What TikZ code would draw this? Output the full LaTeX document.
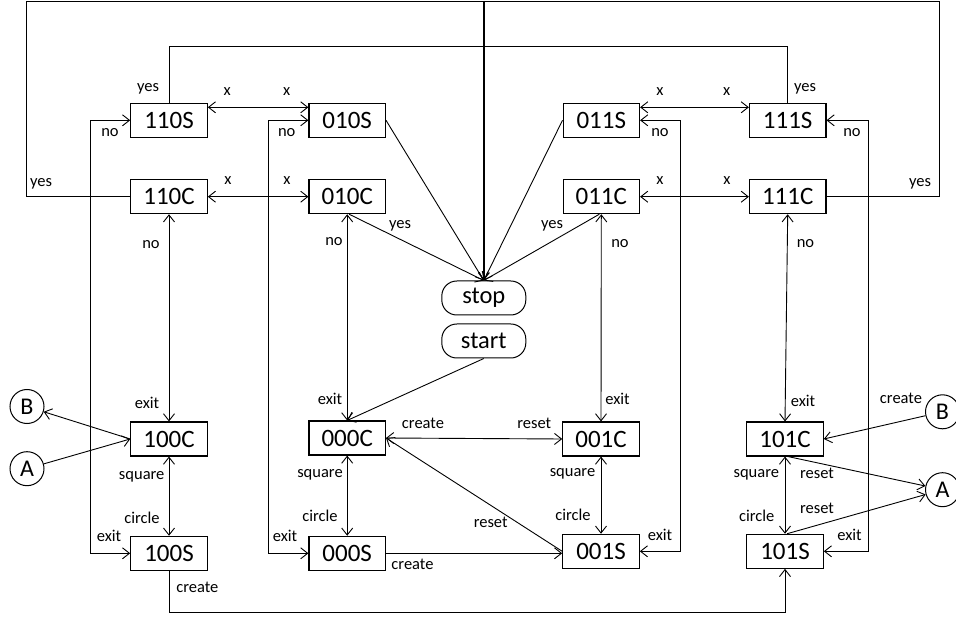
\documentclass[tikz,border=0pt]{standalone}
\usepackage{fontspec}
\setmainfont{Carlito}
\usetikzlibrary{arrows.meta}
\begin{document}
\begin{tikzpicture}[x=1pt,y=-1pt,
  st/.style={draw, line width=1.1pt, minimum width=76.5pt, minimum height=34pt, inner sep=0pt, font=\fontsize{25}{25}\selectfont},
  term/.style={draw, rounded corners=15pt, line width=1pt, minimum width=84pt, minimum height=34pt, inner sep=0pt, font=\fontsize{24.5}{24.5}\selectfont},
  conn/.style={draw, circle, line width=1pt, minimum size=34pt, inner sep=0pt, font=\fontsize{24}{24}\selectfont},
  lbl/.style={font=\fontsize{16.5}{16.5}\selectfont, inner sep=0pt, text height=7.7pt, text depth=0pt},
  tip/.tip={Straight Barb[length=7pt,width=11pt,line width=0.9pt]},
  ln/.style={line width=0.9pt},
  ar/.style={ln, -tip},
  dar/.style={ln, tip-tip},
  thick line/.style={line width=1.8pt}
]
\useasboundingbox (0,0) rectangle (956,617);

% state nodes
\node[st] (110S) at (169,120.3) {110S};
\node[st] (110C) at (169,196.7) {110C};
\node[st] (010S) at (347.2,120.3) {010S};
\node[st] (010C) at (347.2,196.7) {010C};
\node[st] (011S) at (601.3,120.3) {011S};
\node[st] (011C) at (601.3,196.7) {011C};
\node[st] (111S) at (787.7,120.3) {111S};
\node[st] (111C) at (787.7,196.7) {111C};
\node[st] (100C) at (169,439) {100C};
\node[st] (100S) at (169,553.3) {100S};
\node[st] (000C) at (347.2,438) {000C};
\node[st] (000S) at (347.2,553.3) {000S};
\node[st] (001C) at (601,439) {001C};
\node[st] (001S) at (601,551.3) {001S};
\node[st] (101C) at (785,439) {101C};
\node[st] (101S) at (785,551.3) {101S};
\node[term] (stop) at (483.8,298) {stop};
\node[term] (start) at (483.8,341) {start};
\node[conn] (Bl) at (27,406.5) {B};
\node[conn] (Al) at (27,468.7) {A};
\node[conn] (Br) at (942.5,411.8) {B};
\node[conn] (Ar) at (942.5,489.7) {A};

% helper coordinates
\coordinate (oL) at (26,1);
\coordinate (oR) at (939,1);
\coordinate (oM) at (483.8,1);
\coordinate (iM) at (483.8,46);
\coordinate (hS) at (0,107.3);
\coordinate (vA) at (90.7,300);
\coordinate (vB) at (268.7,300);
\coordinate (vC) at (680.7,300);
\coordinate (vD) at (868.3,300);
\coordinate (bot) at (0,612.7);

% loops to stop
\draw[ln] (110C.west) -| (oL) -- (oM);
\draw[ln] (111C.east) -| (oR) -- (oM);
\draw[ln] (110S.north) |- (iM);
\draw[ln] (111S.north) |- (iM);
\draw[thick line, -{Straight Barb[length=7pt,width=11pt,line width=1.2pt]}] (oM) -- (stop.north);

% x transitions
\draw[dar] (110S.east |- hS) -- (010S.west |- hS);
\draw[dar] (110C.east) -- (010C.west);
\draw[dar] (011S.east |- hS) -- (111S.west |- hS);
\draw[dar] (011C.east) -- (111C.west);

% no / exit side loops
\draw[dar] (110S.west) -| (vA) |- (100S.west);
\draw[dar] (010S.west) -| (vB) |- (000S.west);
\draw[dar] (011S.east) -| (vC) |- (001S.east);
\draw[dar] (111S.east) -| (vD) |- (101S.east);

% vertical transitions
\draw[dar] (110C.south) -- (100C.north);
\draw[dar] (010C.south) -- (000C.north);
\draw[dar] (011C.south) -- (001C.north);
\draw[dar] (111C.south) -- (101C.north);
\draw[dar] (100C.south) -- (100S.north);
\draw[dar] (000C.south) -- (000S.north);
\draw[dar] (001C.south) -- (001S.north);
\draw[dar] (101C.south) -- (101S.north);

% into stop
\draw[ar] (010S.east) -- (stop.north);
\draw[ar] (011S.west) -- (stop.north);
\draw[ar] ([xshift=2pt]010C.south) -- (stop.north);
\draw[ar] ([xshift=-2pt]011C.south) -- (stop.north);
\draw[ar] (start.south) -- (000C.north);

% middle bottom
\draw[dar] (000C.east) -- (001C.west);
\draw[ar] (000S.east) -- (001S.west |- 000S.east);
\draw[ar] (001S.west) -- (000C.east);
\draw[ar] (100S.south) -- (100S.south |- bot) -| (101S.south);

% connectors A / B
\draw[ar] (100C.west) -- (Bl);
\draw[ar] (Al) -- (100C.west);
\draw[ar] (Br) -- (101C.east);
\draw[ar] ([xshift=3pt]101C.south) -- (Ar);
\draw[ar] ([xshift=2pt]101S.north) -- (Ar);

% labels
\foreach \t/\x/\y [count=\i] in {
  yes/41/183, yes/920/183, yes/148/88, yes/805/88,
  x/227.3/91.7, x/286.7/91.7, x/228/181, x/287/181,
  x/660/91.7, x/726.7/91.7, x/660/181, x/727/181,
  no/110/132.7, no/286.7/132.7, no/660/132.7, no/852/132.7,
  exit/109/537.7, exit/285/537.7, exit/660/536.7, exit/849.5/536.7,
  no/151/245, no/334/241.7, no/620/243.3, no/805.5/243.3,
  exit/147/405, exit/330/401, exit/617.5/401, exit/803/402.3,
  yes/400/224.3, yes/552/225,
  create/423/425, reset/534.3/425,
  square/320/474, circle/320/517.3,
  create/412.5/565.7, reset/490.7/524,
  square/572.5/472.7, circle/573/516.7,
  square/141.7/476, circle/142/519.3,
  create/197.3/588.3, create/901/400,
  reset/817/475, reset/817/509.3,
  square/756.3/474, circle/756.7/517.3}
  \node[lbl, name=L\i] at (\x,\y) {\t};
\end{tikzpicture}
\end{document}
